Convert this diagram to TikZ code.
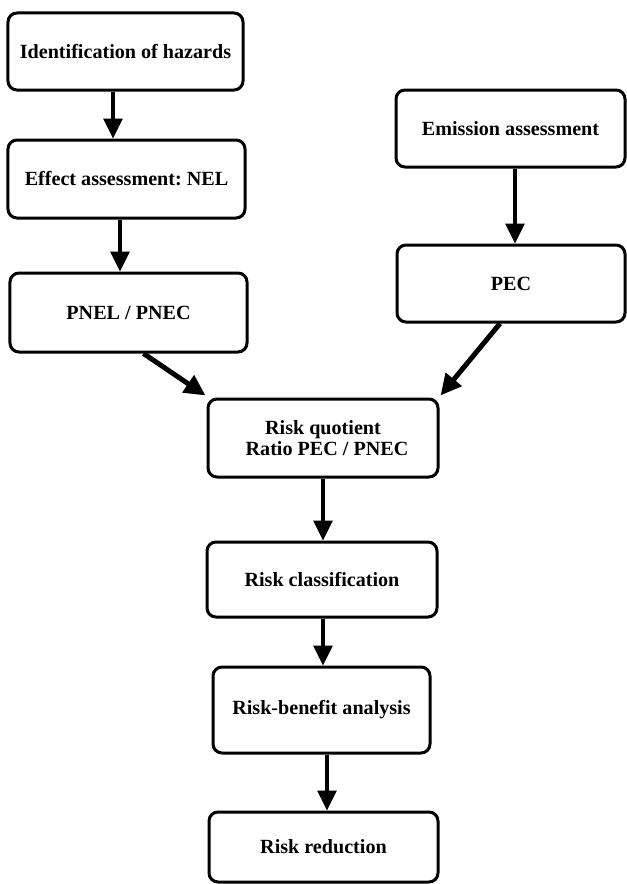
\documentclass[tikz,border=0pt]{standalone}
\usepackage{fontspec}
\setmainfont{Liberation Serif}
\usetikzlibrary{arrows.meta,calc}

\begin{document}
\begin{tikzpicture}[x=1bp,y=-1bp,
  stagebox/.style={draw=black, line width=3bp, rounded corners=9bp,
    align=center, inner sep=0pt,
    font=\fontsize{20.2}{20.5}\selectfont\bfseries\frenchspacing},
  flow/.style={line width=3.2bp, -{Triangle[length=20bp,width=19bp]}},
  joinflow/.style={line width=5bp, -{Triangle[length=21bp,width=20bp]}}]

  % page frame
  \useasboundingbox (0,0) rectangle (627,884);

  % effects branch (left column)
  \node[stagebox, minimum width=235bp, minimum height=77bp] (haz) at (125.5,51.5) {Identification of hazards};
  \node[stagebox, minimum width=237bp, minimum height=78bp] (eff) at (126.5,179) {Effect assessment: NEL};
  \node[stagebox, minimum width=237bp, minimum height=79bp] (pnec) at (128.5,312.5) {PNEL / PNEC};

  % exposure branch (right column)
  \node[stagebox, minimum width=229bp, minimum height=77bp] (emi) at (510.5,128.5) {Emission assessment};
  \node[stagebox, minimum width=228bp, minimum height=77bp] (pec) at (511,283.5) {PEC};

  % characterisation and management (middle column)
  \node[stagebox, minimum width=230bp, minimum height=78bp] (rq) at (323,438) {Risk quotient\\\hspace*{8bp}Ratio PEC / PNEC};
  \node[stagebox, minimum width=230bp, minimum height=75bp] (rc) at (322,579.5) {Risk classification};
  \node[stagebox, minimum width=217bp, minimum height=86bp] (rb) at (321.5,710) {Risk-benefit analysis};
  \node[stagebox, minimum width=229bp, minimum height=70bp] (rr) at (323.5,847) {Risk reduction};

  % vertical connectors
  \draw[flow] ([xshift=-12.5bp]haz.south) -- ([xshift=-12.5bp]haz.south |- eff.north);
  \draw[flow] ([xshift=-6.5bp]eff.south) -- ([xshift=-6.5bp]eff.south |- pnec.north);
  \draw[flow] ([xshift=4.5bp]emi.south) -- ([xshift=4.5bp]emi.south |- pec.north);
  \draw[flow] (rq.south) -- (rq.south |- rc.north);
  \draw[flow] ([xshift=1bp]rc.south) -- ([xshift=1bp]rc.south |- rb.north);
  \draw[flow] ([xshift=5.5bp]rb.south) -- ([xshift=5.5bp]rb.south |- rr.north);

  % both branches join at the risk quotient
  \draw[joinflow] ([xshift=15bp]pnec.south) -- ([xshift=-1bp,yshift=2bp]rq.north west);
  \draw[joinflow] ([xshift=-11bp]pec.south) -- ([xshift=1bp,yshift=2bp]rq.north east);
\end{tikzpicture}
\end{document}
